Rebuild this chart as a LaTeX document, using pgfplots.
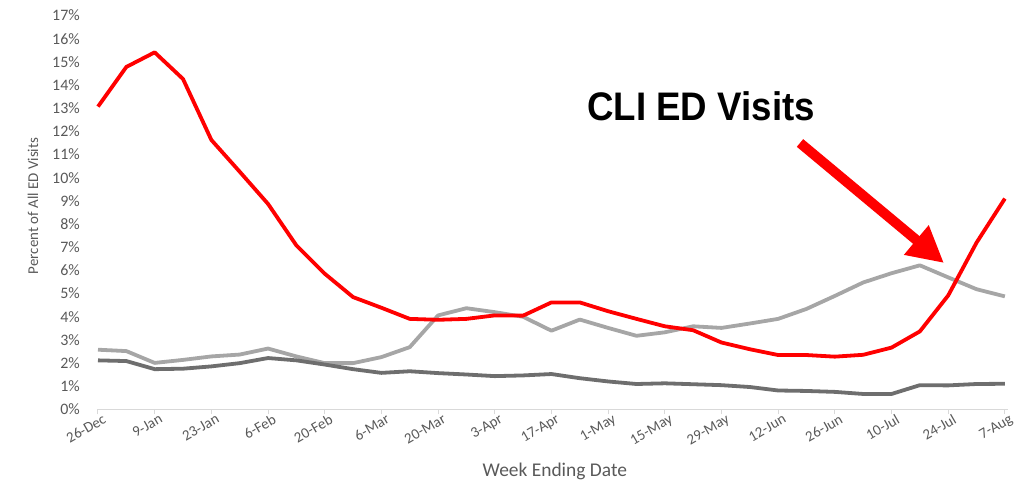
\documentclass[border=0pt]{standalone}
\usepackage{pgfplots}
\pgfplotsset{compat=1.18}
\usepackage{pgfplotstable}
\usepackage{fontspec}
\setmainfont{Carlito}
\newfontfamily\arialfont{Liberation Sans}
\usetikzlibrary{arrows.meta}
\definecolor{cliRed}{HTML}{FF0000}
\definecolor{ltGray}{HTML}{A6A6A6}
\definecolor{dkGray}{HTML}{6E6E6E}
\definecolor{txtGray}{HTML}{595959}
\definecolor{axGray}{HTML}{D9D9D9}

\pgfplotstableread{
i red light dark
0 13.07 2.58 2.12
1 14.78 2.52 2.09
2 15.41 2.01 1.74
3 14.26 2.14 1.76
4 11.63 2.29 1.86
5 10.26 2.37 2.00
6 8.87 2.63 2.22
7 7.08 2.29 2.12
8 5.86 2.00 1.94
9 4.85 2.00 1.74
10 4.39 2.26 1.58
11 3.91 2.69 1.65
12 3.87 4.06 1.57
13 3.91 4.37 1.51
14 4.06 4.20 1.44
15 4.05 4.00 1.47
16 4.62 3.40 1.53
17 4.62 3.88 1.35
18 4.24 3.52 1.21
19 3.91 3.18 1.10
20 3.59 3.33 1.13
21 3.42 3.59 1.09
22 2.89 3.52 1.05
23 2.60 3.71 0.97
24 2.35 3.91 0.82
25 2.35 4.34 0.80
26 2.28 4.90 0.76
27 2.36 5.48 0.67
28 2.67 5.88 0.67
29 3.37 6.22 1.05
30 4.92 5.70 1.04
31 7.20 5.19 1.10
32 9.10 4.88 1.11
}\cliData

\begin{document}
\begin{tikzpicture}
\begin{axis}[
  name=ax, at={(0,0)}, anchor=south west,
  scale only axis, width=910bp, height=394bp,
  xmin=0, xmax=32.11, ymin=0, ymax=17,
  axis x line*=bottom, axis y line*=left,
  x axis line style={draw=axGray, line width=1bp, -},
  y axis line style={draw=none},
  xtick={0,2,...,32},
  xticklabels={26-Dec,9-Jan,23-Jan,6-Feb,20-Feb,6-Mar,20-Mar,3-Apr,17-Apr,1-May,15-May,29-May,12-Jun,26-Jun,10-Jul,24-Jul,7-Aug},
  ytick={0,1,...,17},
  yticklabels={0\%,1\%,2\%,3\%,4\%,5\%,6\%,7\%,8\%,9\%,10\%,11\%,12\%,13\%,14\%,15\%,16\%,17\%},
  tick align=outside, major tick length=5bp,
  xtick style={draw=axGray, line width=1bp},
  ytick style={draw=none},
  xticklabel style={font=\fontsize{15}{17}\selectfont, text=txtGray, rotate=30, anchor=north east, inner sep=1bp, xshift=5bp},
  yticklabel style={font=\fontsize{16}{18}\selectfont, text=txtGray, anchor=east, inner sep=1bp, xshift=-12bp},
  xlabel={Week Ending Date},
  xlabel style={font=\fontsize{19.5}{21}\selectfont, text=txtGray, at={(axis description cs:0.502,-0.171)}, anchor=base, inner sep=0pt},
  ylabel={Percent of All ED Visits},
  ylabel style={font=\fontsize{15}{17}\selectfont, text=txtGray, at={(axis description cs:-0.0714,0.5165)}, anchor=center, inner sep=0pt},
  clip=false,
]
\addplot[color=ltGray, line width=3.8bp, line join=round] table[x=i, y=light] {\cliData};
\addplot[color=dkGray, line width=3.8bp, line join=round] table[x=i, y=dark] {\cliData};
\addplot[color=cliRed, line width=3.8bp, line join=round] table[x=i, y=red] {\cliData};
\node[font=\arialfont\bfseries\fontsize{40}{44}\selectfont, xscale=0.92, inner sep=0pt] at (axis cs:21.28,13.07) {CLI ED Visits};
\draw[cliRed, line width=10bp, -{Triangle[width=36bp,length=36bp]}] (axis cs:24.77,11.5) -- (axis cs:29.85,6.32);
\end{axis}
\path[use as bounding box] ([xshift=-98bp,yshift=-63.5bp]ax.south west) rectangle ([xshift=25bp,yshift=15.5bp]ax.north east);
\end{tikzpicture}
\end{document}
